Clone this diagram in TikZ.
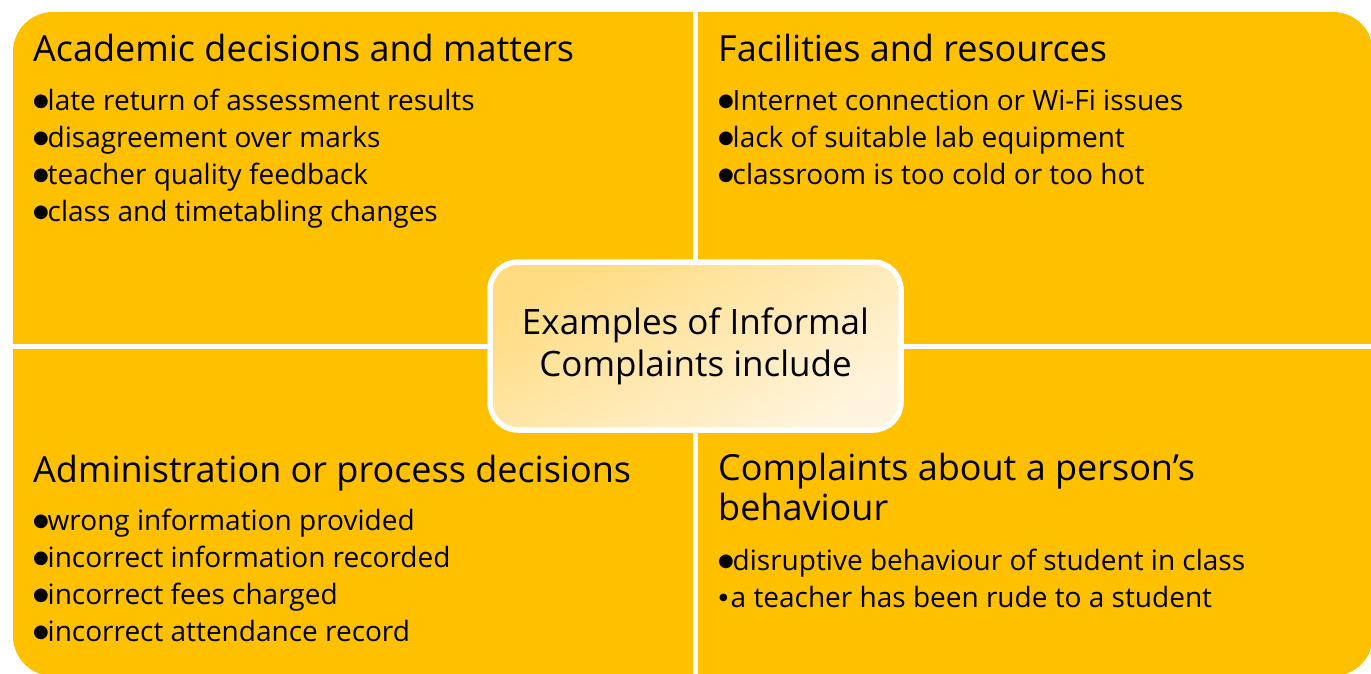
\documentclass[tikz,border=0pt]{standalone}
\usepackage{fontspec}
\setmainfont{Open Sans}
\newfontfamily\symfont{DejaVu Sans}
\definecolor{quad}{HTML}{FFC000}
\definecolor{hubA}{HTML}{FFDC82}
\definecolor{hubB}{HTML}{FFF4DD}
% list markers: a large round dot and a small one
\newcommand\bigdot{\makebox[14.5pt][l]{\raisebox{3.5pt}{\symfont\fontsize{18}{18}\selectfont ●}}}
\newcommand\smalldot{\makebox[12.5pt][l]{\hspace{1pt}\raisebox{7pt}{\symfont\fontsize{10}{10}\selectfont ●}}}
\begin{document}
\begin{tikzpicture}[x=1pt,y=-1pt,
  heading/.style={anchor=base west, inner sep=0pt, font=\fontsize{36}{40}\selectfont},
  item/.style={anchor=base west, inner sep=0pt, font=\fontsize{28}{37}\selectfont},
  hubbox/.style={draw=white, line width=5.5pt, rounded corners=28pt,
    minimum width=411pt, minimum height=168pt, inner sep=0pt,
    top color=hubA, bottom color=hubB, shading angle=30,
    align=center, font=\fontsize{35}{42}\selectfont}]
\useasboundingbox (0,0) rectangle (1371,673);

% four quadrants, trimmed to one rounded outline
\begin{scope}
  \clip[rounded corners=40pt] (13,12) rectangle (1373,676);
  \fill[quad] (13,12) rectangle (693,344);
  \fill[quad] (698,12) rectangle (1373,344);
  \fill[quad] (13,349) rectangle (693,676);
  \fill[quad] (698,349) rectangle (1373,676);
\end{scope}

% top left
\node[heading] (tlh) at (33,61) {Academic decisions and matters};
\foreach \t [count=\i from 0] in {late return of assessment results,
    disagreement over marks, teacher quality feedback,
    class and timetabling changes}
  \node[item] (tl\i) at (33,110+37*\i) {\bigdot\t};

% top right
\node[heading] (trh) at (718,61) {Facilities and resources};
\foreach \t [count=\i from 0] in {Internet connection or Wi-Fi issues,
    lack of suitable lab equipment, classroom is too cold or too hot}
  \node[item] (tr\i) at (718,110+37*\i) {\bigdot\t};

% bottom left
\node[heading] (blh) at (33,482) {Administration or process decisions};
\foreach \t [count=\i from 0] in {wrong information provided,
    incorrect information recorded, incorrect fees charged,
    incorrect attendance record}
  \node[item] (bl\i) at (33,530+37*\i) {\bigdot\t};

% bottom right
\node[heading] (brh) at (718,480) {Complaints about a person’s};
\node[heading] (brh2) at (718,520) {behaviour};
\node[item] (br0) at (718,570) {\bigdot disruptive behaviour of student in class};
\node[item] (br1) at (718,607) {\smalldot a teacher has been rude to a student};

% central label
\node[hubbox] (hub) at (695.5,346) {Examples of Informal\\Complaints include};
\end{tikzpicture}
\end{document}
